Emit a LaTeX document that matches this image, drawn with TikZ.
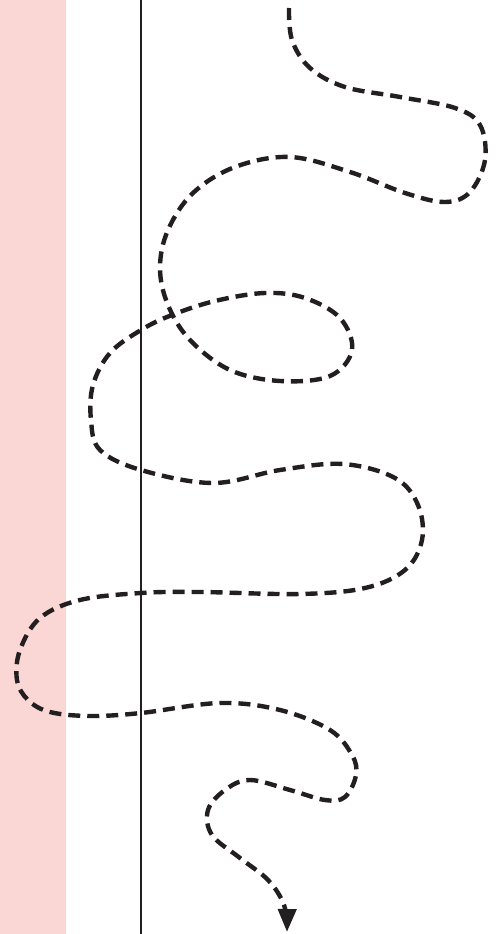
\documentclass[tikz,border=0pt]{standalone}
\usetikzlibrary{arrows.meta}
\definecolor{stripe}{HTML}{FAD7D5}
\definecolor{ink}{HTML}{231F20}

\begin{document}
\begin{tikzpicture}[x=1pt,y=-1pt]
\useasboundingbox (0,0) rectangle (501,934);
\fill[stripe] (0,0) rectangle (66,934);
\draw[ink,line width=1.6pt] (141,0) -- (141,934);
% wandering dashed route
\draw[ink,line width=4.4pt,dash pattern=on 12pt off 7pt,
  -{Triangle[length=23pt,width=18pt]}]
  plot[smooth,tension=0.6] coordinates {
  (289,8) (292,40) (310,68) (345,87) (400,97) (455,108) (480,125)
  (485,160) (470,192) (445,202) (405,193) (350,172) (290,157)
  (235,167) (193,193) (168,230) (160,268) (168,305) (190,340)
  (230,370) (280,381) (330,376) (352,350) (340,318) (305,298)
  (265,293) (215,301) (172,315) (141,330) (110,353) (93,385)
  (91,420) (100,450) (141,470) (213,483) (280,470) (343,464)
  (395,478) (418,505) (422,540) (405,570) (365,588) (300,594)
  (200,592) (141,593) (80,600) (40,618) (20,650) (17,680) (28,700)
  (50,712) (90,716) (141,713) (220,703) (280,710) (330,730)
  (352,755) (356,775) (345,797) (325,800) (290,790) (250,780)
  (225,790) (208,810) (212,835) (240,858) (268,880) (284,905)
  (287,932)};
\end{tikzpicture}
\end{document}
